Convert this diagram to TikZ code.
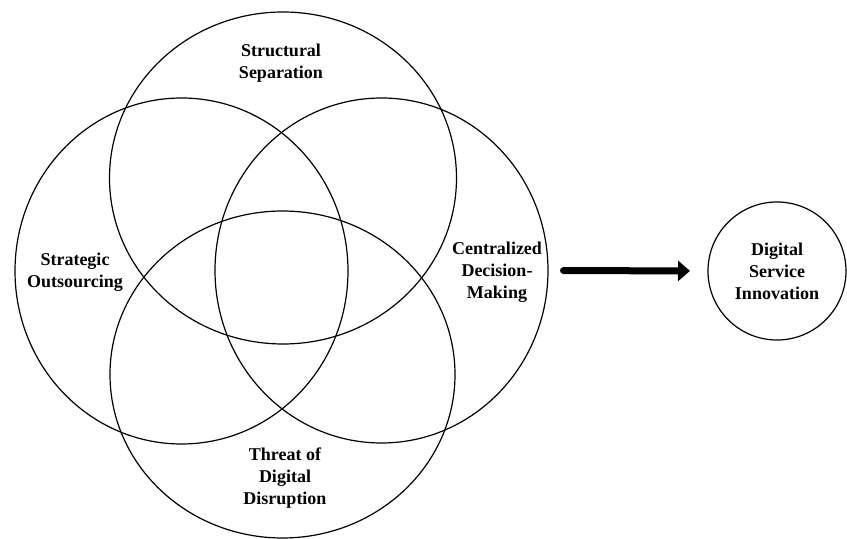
\documentclass[tikz,border=0pt]{standalone}
\usepackage{fontspec}
\setmainfont{Liberation Serif}
\usetikzlibrary{shapes.geometric,arrows.meta}

\begin{document}
\begin{tikzpicture}[x=0.5pt,y=-0.5pt,
	ring/.style={draw, ellipse, line width=0.6pt, inner sep=0pt, outer sep=0pt},
	lbl/.style={align=center, font=\bfseries\fontsize{9}{11}\selectfont},
	bigarrow/.style={line width=3.5pt, line cap=round, -{Triangle[length=6pt,width=10pt]}}]
	\useasboundingbox (0,0) rectangle (847,539);
	
	% the four overlapping circles
	\node[ring, minimum width=173.5pt, minimum height=166pt] (ss) at (283,178) {};
	\node[ring, minimum width=166.5pt, minimum height=173pt] (so) at (181.5,271) {};
	\node[ring, minimum width=166.5pt, minimum height=172.5pt] (cdm) at (381.5,270.5) {};
	\node[ring, minimum width=172.5pt, minimum height=163.5pt] (tdd) at (282.5,374.5) {};
	
	\node[lbl] (sslbl) at (281,63) {Structural\\Separation};
	\node[lbl] (solbl) at (75,272) {Strategic\\Outsourcing};
	\node[lbl] (cdmlbl) at (497,272) {Centralized\\Decision-\\Making};
	\node[lbl] (tddlbl) at (285,478) {Threat of\\Digital\\Disruption};
	
	% outcome
	\node[ring, lbl, circle, minimum size=69pt] (dsi) at (777,271) {Digital\\Service\\Innovation};
	
	\draw[bigarrow, shorten <=7.75pt, shorten >=9pt] (cdm.east) -- (dsi.west);
\end{tikzpicture}
\end{document}
